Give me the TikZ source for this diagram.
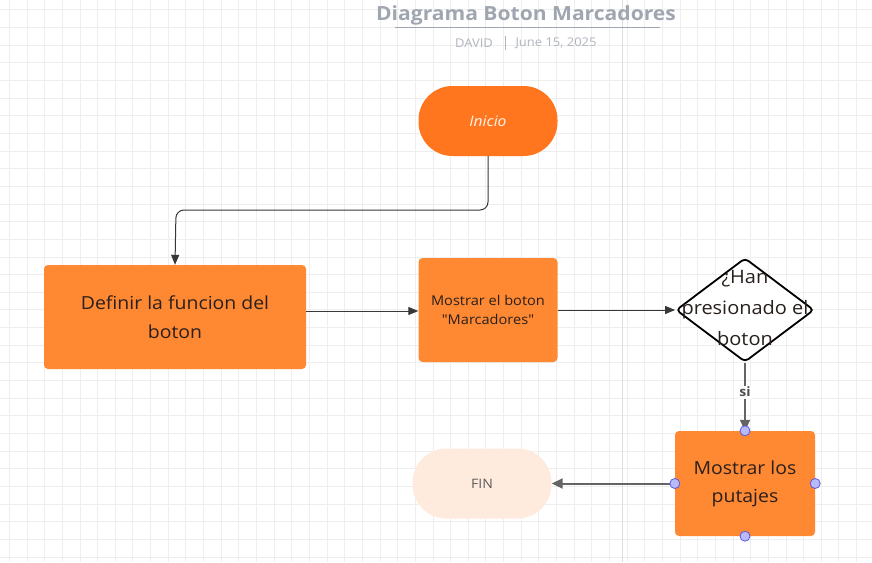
\documentclass[tikz,border=0pt]{standalone}
\usepackage{fontspec}
\setmainfont{Open Sans}[FakeStretch=1.08]
\newfontfamily\qf{Open Sans}[FakeStretch=1.08]
\usetikzlibrary{arrows.meta,shapes.geometric}
\definecolor{gridc}{RGB}{238,238,238}
\definecolor{gridd}{RGB}{222,222,222}
\definecolor{orangeA}{RGB}{255,118,30}
\definecolor{orangeB}{RGB}{255,136,51}
\definecolor{finc}{RGB}{255,235,222}
\definecolor{titlec}{RGB}{160,166,176}
\definecolor{subc}{RGB}{176,180,190}
\definecolor{txt}{RGB}{40,32,28}
\definecolor{linedark}{RGB}{55,55,55}
\definecolor{linegray}{RGB}{100,100,100}
\definecolor{handlef}{RGB}{184,186,250}
\definecolor{handled}{RGB}{90,90,220}
\tikzset{
  stadium/.style={draw=none, rounded corners=34pt, minimum width=139pt, minimum height=70pt, inner sep=0pt},
  procbox/.style={draw=none, fill=orangeB, rounded corners=4pt, inner sep=0pt, align=center, text=txt},
  flow/.style={draw=linedark, line width=1pt, -{Triangle[length=10pt,width=8pt]}},
  flowg/.style={draw=linegray, line width=2pt, -{Triangle[length=11pt,width=10pt]}},
  handle/.style={circle, draw=handled, fill=handlef, line width=0.8pt, minimum size=10pt, inner sep=0pt},
}
\begin{document}
\begin{tikzpicture}[x=1pt,y=-1pt]
\useasboundingbox (0,0) rectangle (872,562);
\fill[white] (0,0) rectangle (872,562);
% grid
\foreach \i in {0,...,49} {
  \draw[gridc, line width=0.8pt] ({9.3+17.65*\i},0) -- ({9.3+17.65*\i},562);
}
\foreach \j in {0,...,31} {
  \draw[gridc, line width=0.8pt] (0,{9.8+17.65*\j}) -- (872,{9.8+17.65*\j});
}
\draw[gridd, line width=1pt] (622,0) -- (622,562);
% title
\node[text=titlec, font=\bfseries\fontsize{19.5}{24}\selectfont, anchor=center] (title) at (526,15) {Diagrama Boton Marcadores};
\draw[titlec, line width=1.5pt] (395,27.5) -- (660,27.5);
\node[text=subc, font=\fontsize{12}{14}\selectfont] (author) at (474,43) {DAVID};
\draw[subc, line width=0.8pt] (505,36) -- (505,50);
\node[text=subc, font=\fontsize{12}{14}\selectfont] (date) at (556,43) {June 15, 2025};
% nodes
\node[stadium, fill=orangeA, text=white!92!orange, font=\itshape\fontsize{14.5}{18}\selectfont] (ini) at (488,121) {Inicio};
\node[procbox, minimum width=262pt, minimum height=104pt, font=\fontsize{18}{29}\selectfont] (def) at (175,317) {Definir la funcion del\\boton};
\node[procbox, minimum width=139pt, minimum height=104pt, font=\qf\fontsize{13.5}{19}\selectfont] (mos) at (488,310) {Mostrar el boton\\"Marcadores"};
\node[diamond, draw=black, fill=white, line width=1.8pt, rounded corners=4pt, minimum width=138pt, minimum height=104pt, inner sep=0pt, aspect=1.33] (dec) at (745,310) {};
\node[text=txt, align=center, font=\fontsize{18.5}{31}\selectfont] (dect) at (745,308) {¿Han\\presionado el\\boton};
\node[procbox, minimum width=140pt, minimum height=105pt, font=\fontsize{18}{28}\selectfont] (put) at (745,483.5) {Mostrar los\\putajes};
\node[stadium, fill=finc, text=linegray!90!black, font=\fontsize{13}{16}\selectfont] (fin) at (482,483.5) {FIN};
% connectors
\coordinate (bend) at (176,210);
\draw[flow, rounded corners=8pt] (ini.south) |- (bend) -- (def.north);
\draw[flow] (def.east |- 0,311) -- (mos.west |- 0,311);
\draw[flow] (mos.east) -- (dec.west);
\draw[flowg] (dec.south) -- node[pos=0.43, fill=white, inner sep=1.5pt, text=linegray!80!black, font=\bfseries\fontsize{13}{15}\selectfont] (si) {si} (put.north);
\draw[flowg] (put.west) -- (fin.east);
% handles
\node[handle] (h1) at (put.north) {};
\node[handle] (h2) at (put.west) {};
\node[handle] (h3) at (put.east) {};
\node[handle] (h4) at (put.south) {};
\end{tikzpicture}
\end{document}
